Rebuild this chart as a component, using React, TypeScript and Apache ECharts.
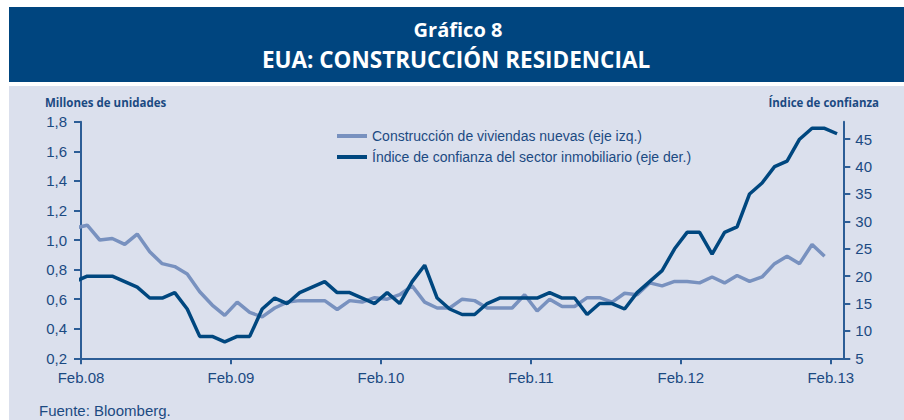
import React, { useEffect, useRef } from "react";
import * as echarts from "echarts";

// Monthly data, Jan.08 onwards
const construccion = [
  1.08, 1.10, 1.00, 1.01, 0.97, 1.04, 0.92, 0.84, 0.82, 0.77, 0.65, 0.56,
  0.49, 0.58, 0.51, 0.48, 0.54, 0.58, 0.59, 0.59, 0.59, 0.53, 0.59, 0.58,
  0.61, 0.60, 0.63, 0.69, 0.58, 0.54, 0.54, 0.60, 0.59, 0.54, 0.54, 0.54,
  0.63, 0.52, 0.60, 0.55, 0.55, 0.61, 0.61, 0.58, 0.64, 0.63, 0.71, 0.69,
  0.72, 0.72, 0.71, 0.75, 0.71, 0.76, 0.72, 0.75, 0.84, 0.89, 0.84, 0.97,
  0.89,
];
const confianza = [
  19, 20, 20, 20, 19, 18, 16, 16, 17, 14, 9, 9,
  8, 9, 9, 14, 16, 15, 17, 18, 19, 17, 17, 16,
  15, 17, 15, 19, 22, 16, 14, 13, 13, 15, 16, 16,
  16, 16, 17, 16, 16, 13, 15, 15, 14, 17, 19, 21,
  25, 28, 28, 24, 28, 29, 35, 37, 40, 41, 45, 47,
  47, 46,
];
const xTickMonths = [0, 12, 24, 36, 48, 60];
const xTickLabels = ["Feb.08", "Feb.09", "Feb.10", "Feb.11", "Feb.12", "Feb.13"];
const rightTicks = [5, 10, 15, 20, 25, 30, 35, 40, 45];
const seriesNames = [
  "Construcción de viviendas nuevas (eje izq.)",
  "Índice de confianza del sector inmobiliario (eje der.)",
];

const FONT = "'Liberation Sans', Arial, sans-serif";
const TXT = "#1b4a82";
const AXIS = "#2c5d96";
const DARK = "#00477f";
const LIGHT = "#7891bf";

// x position in months from Feb.08 tick; Jan.08 is index 0, points sit mid-month
const toXY = (arr: number[]) => arr.map((v, i) => [i - 1 + 0.5, v]);

export default function App() {
  const ref = useRef<HTMLDivElement>(null);
  useEffect(() => {
    document.body.style.margin = "0";
    const chart = echarts.init(ref.current!, null, { renderer: "svg" });
    chart.setOption({
      animation: false,
      backgroundColor: "#ffffff",
      textStyle: { fontFamily: FONT },
      graphic: [
        { type: "rect", z: -10, shape: { x: 9, y: 7, width: 895, height: 75 }, style: { fill: "#00457f" } },
        { type: "rect", z: -10, shape: { x: 9, y: 86, width: 895, height: 334 }, style: { fill: "#dbe0ed" } },
        {
          type: "text", x: 458, y: 29,
          style: { text: "Gráfico 8", fill: "#ffffff", font: `bold 20px 'Open Sans', sans-serif`, align: "center", verticalAlign: "middle" },
        },
        {
          type: "text", x: 456, y: 59,
          style: { text: "EUA: CONSTRUCCIÓN RESIDENCIAL", fill: "#ffffff", font: `bold 22.5px 'Open Sans', sans-serif`, align: "center", verticalAlign: "middle" },
        },
        {
          type: "text", x: 45, y: 102,
          style: { text: "Millones de unidades", fill: TXT, font: `bold 11.5px 'Open Sans', sans-serif`, align: "left", verticalAlign: "middle" },
        },
        {
          type: "text", x: 879, y: 102,
          style: { text: "Índice de confianza", fill: TXT, font: `bold 11.5px 'Open Sans', sans-serif`, align: "right", verticalAlign: "middle" },
        },
        {
          type: "text", x: 39, y: 410,
          style: { text: "Fuente: Bloomberg.", fill: TXT, font: `15px ${FONT}`, align: "left", verticalAlign: "middle" },
        },
      ],
      legend: {
        left: 332,
        top: 124,
        orient: "vertical",
        itemWidth: 30,
        itemHeight: 4,
        itemGap: 7,
        icon: "rect",
        textStyle: { color: TXT, fontSize: 14, fontFamily: FONT, padding: [0, 0, 0, 0] },
        data: [
          { name: seriesNames[0], itemStyle: { color: LIGHT } },
          { name: seriesNames[1], itemStyle: { color: DARK } },
        ],
        itemStyle: { borderWidth: 0 },
      },
      grid: { left: 81, right: 60.7, top: 121.7, bottom: 61.7, containLabel: false },
      xAxis: {
        type: "value",
        min: 0,
        max: 61,
        splitLine: { show: false },
        axisLine: { lineStyle: { color: AXIS, width: 2 } },
        axisTick: { customValues: xTickMonths, length: 6, lineStyle: { color: AXIS, width: 2 } },
        axisLabel: {
          customValues: xTickMonths,
          formatter: (v: number) => xTickLabels[xTickMonths.indexOf(Math.round(v))] ?? "",
          color: TXT, fontSize: 15, fontFamily: FONT, margin: 12,
        },
      },
      yAxis: [
        {
          type: "value", min: 0.2, max: 1.8, interval: 0.2,
          splitLine: { show: false },
          axisLine: { show: true, lineStyle: { color: AXIS, width: 2 } },
          axisTick: { show: true, length: 7, lineStyle: { color: AXIS, width: 2 } },
          axisLabel: { formatter: (v: number) => v.toFixed(1).replace(".", ","), color: TXT, fontSize: 15, fontFamily: FONT, margin: 14 },
        },
        {
          type: "value", min: 5, max: 48.2, position: "right",
          splitLine: { show: false },
          axisLine: { show: true, lineStyle: { color: AXIS, width: 2 } },
          axisTick: { show: true, customValues: rightTicks, length: 7, lineStyle: { color: AXIS, width: 2 } },
          axisLabel: { customValues: rightTicks, color: TXT, fontSize: 15, fontFamily: FONT, margin: 12 },
        },
      ],
      series: [
        {
          name: seriesNames[0], type: "line", yAxisIndex: 0, symbol: "none",
          data: toXY(construccion), lineStyle: { color: LIGHT, width: 3.5 }, itemStyle: { color: LIGHT },
        },
        {
          name: seriesNames[1], type: "line", yAxisIndex: 1, symbol: "none",
          data: toXY(confianza), lineStyle: { color: DARK, width: 3.5 }, itemStyle: { color: DARK },
        },
      ],
    });
    return () => chart.dispose();
  }, []);
  return <div ref={ref} style={{ position: "fixed", left: 0, top: 0, width: 904, height: 420 }} />;
}
